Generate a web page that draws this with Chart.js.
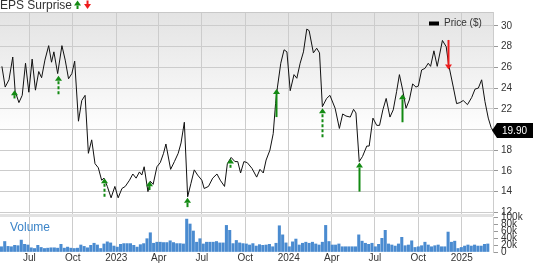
<!DOCTYPE html>
<html><head><meta charset="utf-8">
<script src="https://cdn.jsdelivr.net/npm/chart.js@4"></script>
<style>
html,body{margin:0;padding:0;background:#fff;}
#wrap{position:relative;width:533px;height:264px;overflow:hidden;background:#fff;}
canvas{position:absolute;left:0;top:0;}
</style></head><body>
<div id="wrap"><canvas id="vol" width="533" height="264"></canvas><canvas id="price" width="533" height="264"></canvas></div>
<script>
// x values are days since 2022-04-30
const tickDays = [62,154,246,336,427,519,611,702,793,885,977];
const tickLabels = ['Jul','Oct','2023','Apr','Jul','Oct','2024','Apr','Jul','Oct','2025'];
const xMaxDay = 1043;

const priceDays = [4,11,19,27,32,40,47,54,61,68,75,82,88,95,103,109,114,122,131,138,145,152,158,166,173,180,187,194,201,208,215,220,227,235,243,250,258,265,274,281,288,295,300,305,313,318,324,332,339,346,351,361,369,377,383,390,397,404,411,418,427,432,441,450,459,466,475,481,489,497,503,509,516,523,533,543,550,557,563,571,578,583,587,594,601,607,614,622,628,635,642,649,654,663,670,676,682,691,698,709,718,725,732,741,748,753,760,767,776,781,789,797,803,810,817,825,832,839,845,852,859,866,873,880,885,892,899,906,911,918,925,936,944,949,959,966,973,980,989,998,1005,1012,1019,1026,1033,1039,1043];
const priceValues = [26.1,24.1,24.8,27.0,23.7,22.6,23.3,26.4,23.6,26.8,23.8,25.6,25.0,26.7,28.1,26.5,27.5,25.4,28.1,26.7,24.9,25.4,26.6,20.8,22.8,23.3,17.7,19.0,16.7,16.3,15.1,15.3,14.5,13.4,14.5,13.4,14.3,14.5,15.1,15.7,15.3,15.9,15.6,16.4,14.0,15.0,14.7,16.4,16.8,17.7,18.6,16.15,16.9,17.7,18.7,20.7,13.5,14.8,16.1,15.6,15.1,14.3,14.5,15.3,15.7,15.1,14.5,16.7,17.3,16.9,16.9,15.8,16.9,16.8,16.25,15.4,16.15,15.8,17.05,18.0,19.6,22.5,24.1,26.4,27.7,27.5,23.75,25.3,24.95,26.4,27.5,29.7,29.55,27.4,27.85,27.4,22.2,23.0,23.3,22.05,20.1,21.5,21.3,21.2,21.95,21.6,16.9,17.4,18.4,18.4,21.1,20.4,20.4,21.9,23.0,21.2,21.9,23.65,25.3,23.8,22.05,22.85,24.4,24.1,24.2,25.75,25.9,26.4,26.1,27.6,26.1,28.6,28.0,26.3,24.1,22.5,22.6,22.8,22.4,23.1,23.9,24.0,24.8,22.7,21.1,20.2,19.9];
const priceTicks = [12,14,16,18,20,22,24,26,28,30];

// weekly volume, thousands of shares
const volStartDay = 3;
const volumeValues = [15,30,16,15,19,18,34,22,20,12,10,19,13,10,11,12,12,11,22,11,14,11,10,11,20,16,12,19,25,20,10,23,29,26,17,14,22,24,24,24,19,14,21,24,38,55,25,28,28,27,27,32,27,24,24,23,94,80,60,28,38,23,28,28,28,30,26,26,76,62,24,33,26,24,23,20,24,17,21,19,
20,22,15,25,75,49,26,15,29,37,20,25,28,25,28,23,20,28,76,30,20,20,23,15,15,15,15,15,49,31,25,22,25,15,22,39,62,23,20,17,23,42,18,20,32,13,15,18,28,20,15,18,20,15,15,57,28,31,10,13,17,20,17,20,17,17,22,23];
const volTicks = [0,20,40,60,80,100];

// EPS surprise arrows
const epsDays = [30,122,219,316,396,487,583,681,760,850,947];
const epsTip = [23.8,25.2,15.3,15.0,13.4,17.2,23.9,22.05,16.8,23.4,25.8];
const epsTail = [23.0,23.4,13.5,14.15,12.5,16.3,21.2,19.25,14.0,20.7,28.65];
const epsDashed = [false,true,true,false,false,true,false,true,false,false,false];

const FONT = '"Liberation Sans", Arial, sans-serif';
const GREEN = '#138a13', RED = '#ee1c1c';

function drawArrow(ctx, x, yTail, yTip, color, dashed){
  const up = yTip < yTail;
  const dir = up ? 1 : -1;
  const head = 5;
  ctx.save();
  ctx.strokeStyle = color; ctx.fillStyle = color; ctx.lineWidth = 2;
  if (dashed) ctx.setLineDash([3,2]);
  ctx.beginPath(); ctx.moveTo(x, yTail); ctx.lineTo(x, yTip + dir*head); ctx.stroke();
  ctx.setLineDash([]);
  ctx.beginPath();
  ctx.moveTo(x, yTip);
  ctx.lineTo(x-3.5, yTip + dir*head);
  ctx.lineTo(x+3.5, yTip + dir*head);
  ctx.closePath(); ctx.fill();
  ctx.restore();
}

const pricePlugin = {
  id:'pricePlugin',
  beforeDraw(chart){
    const {ctx, chartArea:a} = chart;
    const g = ctx.createLinearGradient(0, a.top, 0, a.bottom);
    g.addColorStop(0, '#e3e3e3');
    g.addColorStop(0.6, '#ffffff');
    g.addColorStop(1, '#ffffff');
    ctx.save();
    ctx.fillStyle = g; ctx.fillRect(a.left, a.top, a.right-a.left, a.bottom-a.top);
    ctx.restore();
  },
  afterDatasetsDraw(chart){
    const {ctx, scales:{x,y}} = chart;
    epsDays.forEach((d,i)=>{
      const up = epsTip[i] > epsTail[i];
      drawArrow(ctx, Math.round(x.getPixelForValue(d))+0.5, y.getPixelForValue(epsTail[i]), y.getPixelForValue(epsTip[i]), up?GREEN:RED, epsDashed[i]);
    });
  },
  afterDraw(chart){
    const {ctx, chartArea:a, scales:{y}} = chart;
    ctx.save();
    // top border
    ctx.strokeStyle = '#c8c8c8'; ctx.lineWidth = 1;
    ctx.beginPath(); ctx.moveTo(a.left, a.top+0.5); ctx.lineTo(a.right, a.top+0.5); ctx.stroke();
    // separator band
    ctx.fillStyle = '#e2e2e2'; ctx.fillRect(a.left, 214, a.right-a.left, 3);
    // title
    ctx.fillStyle = '#333'; ctx.font = '12px ' + FONT; ctx.textBaseline = 'alphabetic'; ctx.textAlign = 'left';
    ctx.fillText('EPS Surprise', 0, 9);
    const tw = ctx.measureText('EPS Surprise').width;
    drawArrow(ctx, tw+5.5, 9, 0.5, GREEN, false);
    drawArrow(ctx, tw+15.5, 0.5, 9, RED, false);
    // legend
    ctx.fillStyle = '#000'; ctx.fillRect(429, 21.5, 10, 4);
    ctx.fillStyle = '#333'; ctx.font = '10px ' + FONT; ctx.textBaseline = 'middle';
    ctx.fillText('Price ($)', 444, 23.5);
    // last price box
    const last = priceValues[priceValues.length-1];
    const py = y.getPixelForValue(last);
    ctx.fillStyle = '#000';
    ctx.beginPath();
    ctx.moveTo(a.right-1, py); ctx.lineTo(a.right+4, py-7.5); ctx.lineTo(533, py-7.5); ctx.lineTo(533, py+7.5); ctx.lineTo(a.right+4, py+7.5); ctx.closePath(); ctx.fill();
    ctx.fillStyle = '#fff'; ctx.font = '10px ' + FONT;
    ctx.fillText(last.toFixed(2), 502, py+0.5);
    ctx.restore();
  }
};

new Chart(document.getElementById('price'), {
  type:'line',
  data:{datasets:[{data: priceDays.map((d,i)=>({x:d,y:priceValues[i]})), borderColor:'#111', borderWidth:1, pointRadius:0, tension:0, fill:false}]},
  options:{
    responsive:false, animation:false, events:[],
    layout:{padding:{top:12,bottom:49,left:0,right:0}},
    plugins:{legend:{display:false},tooltip:{enabled:false}},
    scales:{
      x:{type:'linear',min:0,max:xMaxDay,
        afterBuildTicks:s=>{s.ticks=tickDays.map(v=>({value:v}));},
        ticks:{display:false}, grid:{color:'#cccccc',drawTicks:false,lineWidth:1}, border:{display:false}},
      y:{position:'right',min:11.74,max:31.35,
        afterBuildTicks:s=>{s.ticks=priceTicks.map(v=>({value:v}));},
        afterFit:s=>{s.width=40;},
        ticks:{color:'#333',font:{family:FONT,size:10},padding:3,autoSkip:false},
        grid:{color:'#cccccc',tickColor:'#999',tickLength:5},
        border:{display:true,color:'#cccccc'}}
    }
  },
  plugins:[pricePlugin]
});

const volPlugin = {
  id:'volPlugin',
  afterDraw(chart){
    const {ctx} = chart;
    ctx.save();
    ctx.fillStyle = '#3b84c8'; ctx.font = '12px ' + FONT; ctx.textBaseline = 'alphabetic';
    ctx.fillText('Volume', 10, 231);
    ctx.restore();
  }
};

new Chart(document.getElementById('vol'), {
  type:'bar',
  data:{datasets:[{data: volumeValues.map((v,i)=>({x:volStartDay+7*i,y:v})), backgroundColor:'#4a8bd0', barThickness:2.4, borderWidth:0}]},
  options:{
    responsive:false, animation:false, events:[],
    layout:{padding:{top:217,bottom:0,left:0,right:0}},
    plugins:{legend:{display:false},tooltip:{enabled:false}},
    scales:{
      x:{type:'linear',min:0,max:xMaxDay,offset:false,
        afterBuildTicks:s=>{s.ticks=tickDays.map(v=>({value:v}));},
        ticks:{callback:(v,i)=>tickLabels[i],autoSkip:false,maxRotation:0,padding:0,color:'#333',font:{family:FONT,size:10}},
        grid:{color:'#cccccc',drawTicks:false,offset:false}, border:{display:false}},
      y:{position:'right',min:0,max:100,
        afterBuildTicks:s=>{s.ticks=volTicks.map(v=>({value:v}));},
        afterFit:s=>{s.width=40;},
        ticks:{callback:v=>v===0?'0':v+'k',autoSkip:false,color:'#333',padding:3,font:{family:FONT,size:10}},
        grid:{drawOnChartArea:false,tickColor:'#999',tickLength:5},
        border:{display:true,color:'#cccccc'}}
    }
  },
  plugins:[volPlugin]
});
</script>
</body></html>
